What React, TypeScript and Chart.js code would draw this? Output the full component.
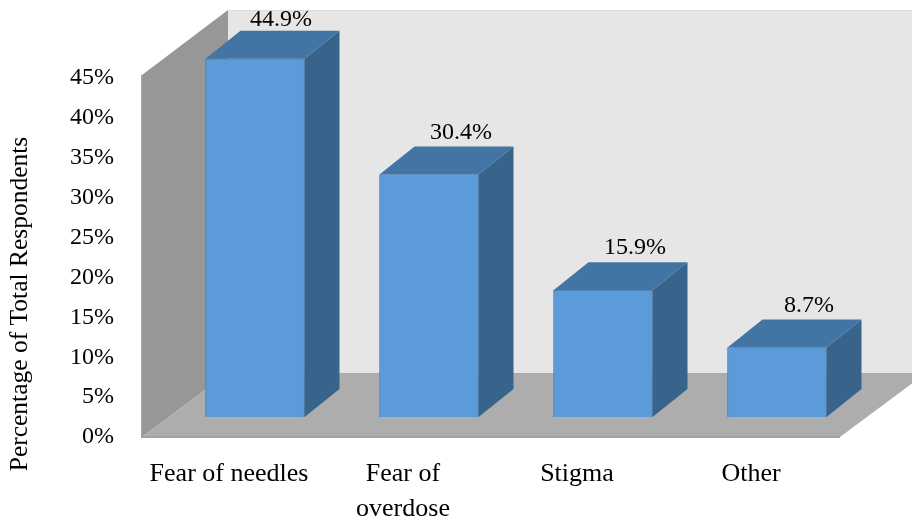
import React, { useEffect, useRef } from "react";
import { Chart, registerables } from "chart.js";

Chart.register(...registerables);

const categories: (string | string[])[] = ["Fear of needles", ["Fear of", "overdose"], "Stigma", "Other"];
const values = [44.9, 30.4, 15.9, 8.7];
const valueLabels = ["44.9%", "30.4%", "15.9%", "8.7%"];
const axisTitle = "Percentage of Total Respondents";
const FONT = "'Liberation Serif', serif";

const DX = 26, DY = -20, DEPTH_X = 35, DEPTH_Y = -28, WALL_X = 86, WALL_Y = -64;

const poly = (ctx: CanvasRenderingContext2D, pts: number[][], fill: string, stroke?: string) => {
  ctx.beginPath();
  pts.forEach((p, i) => (i ? ctx.lineTo(p[0], p[1]) : ctx.moveTo(p[0], p[1])));
  ctx.closePath();
  ctx.fillStyle = fill;
  ctx.fill();
  if (stroke) {
    ctx.strokeStyle = stroke;
    ctx.lineWidth = 1;
    ctx.stroke();
  }
};

const threeD = {
  id: "threeD",
  beforeDatasetsDraw(chart: any) {
    const { ctx, chartArea: a } = chart;
    const backX = a.left + WALL_X, backB = a.bottom + WALL_Y, floorR = a.right + 2;
    ctx.save();
    poly(ctx, [[backX, 10], [912, 10], [912, backB], [backX, backB]], "#e6e6e6");
    ctx.fillStyle = "#dcdcdc";
    ctx.fillRect(backX, 10, 912 - backX, 1);
    poly(ctx, [[a.left, a.top - 3], [backX, 10], [backX, backB], [a.left, a.bottom]], "#979797");
    poly(ctx, [[a.left, a.bottom], [backX, backB], [floorR + WALL_X, backB], [floorR, a.bottom]], "#adadad");
    ctx.strokeStyle = "#a2a2a2";
    ctx.lineWidth = 2;
    ctx.beginPath();
    ctx.moveTo(a.left, a.top - 3);
    ctx.lineTo(a.left, a.bottom);
    ctx.lineTo(floorR, a.bottom);
    ctx.stroke();
    ctx.save();
    ctx.translate(20, 304);
    ctx.rotate(-Math.PI / 2);
    ctx.fillStyle = "#000";
    ctx.font = `25.5px ${FONT}`;
    ctx.textAlign = "center";
    ctx.textBaseline = "middle";
    ctx.fillText(axisTitle, 0, 0);
    ctx.restore();
    ctx.translate(DX, DY);
  },
  afterDatasetsDraw(chart: any) {
    const { ctx } = chart;
    chart.getDatasetMeta(0).data.forEach((bar: any, i: number) => {
      const l = bar.x - bar.width / 2, r = bar.x + bar.width / 2, t = bar.y, b = bar.base;
      poly(ctx, [[r, t], [r + DEPTH_X, t + DEPTH_Y], [r + DEPTH_X, b + DEPTH_Y], [r, b]], "#38648c");
      poly(ctx, [[l, t], [l + DEPTH_X, t + DEPTH_Y], [r + DEPTH_X, t + DEPTH_Y], [r, t]], "#4275a3");
      ctx.fillStyle = "#000";
      ctx.font = `24px ${FONT}`;
      ctx.textAlign = "center";
      ctx.textBaseline = "middle";
      const labelX = i === 0 ? bar.x + 26 : bar.x + 32;
      ctx.fillText(valueLabels[i], labelX, Math.max(t + DEPTH_Y - 14, 40));
    });
    ctx.restore();
  },
};

export default function App() {
  const ref = useRef<HTMLCanvasElement>(null);
  useEffect(() => {
    const chart = new Chart(ref.current!, {
      type: "bar",
      data: {
        labels: categories as any,
        datasets: [{
          data: values,
          backgroundColor: "#5b9bd9",
          borderColor: "#4a82b8",
          borderWidth: 1,
          barThickness: 99,
        }],
      },
      plugins: [threeD],
      options: {
        responsive: false,
        animation: false,
        clip: false,
        layout: { padding: { left: 0, right: 74, top: 78, bottom: 0 } },
        plugins: { legend: { display: false }, tooltip: { enabled: false } },
        scales: {
          x: {
            grid: { display: false },
            border: { display: false },
            afterFit: (s: any) => { s.height = 84; },
            ticks: { color: "#000", font: { family: FONT, size: 26, lineHeight: 1.35 }, maxRotation: 0, autoSkip: false, padding: 12 },
          },
          y: {
            min: 0,
            max: 45,
            grid: { display: false },
            border: { display: false },
            afterFit: (s: any) => { s.width = 142; },
            ticks: { stepSize: 5, color: "#000", font: { family: FONT, size: 24 }, padding: 20, callback: (v: any) => `${v}%` },
          },
        },
      } as any,
    });
    return () => chart.destroy();
  }, []);
  return (
    <canvas ref={ref} width={912} height={521} style={{ position: "fixed", left: 0, top: 0, display: "block" }} />
  );
}
